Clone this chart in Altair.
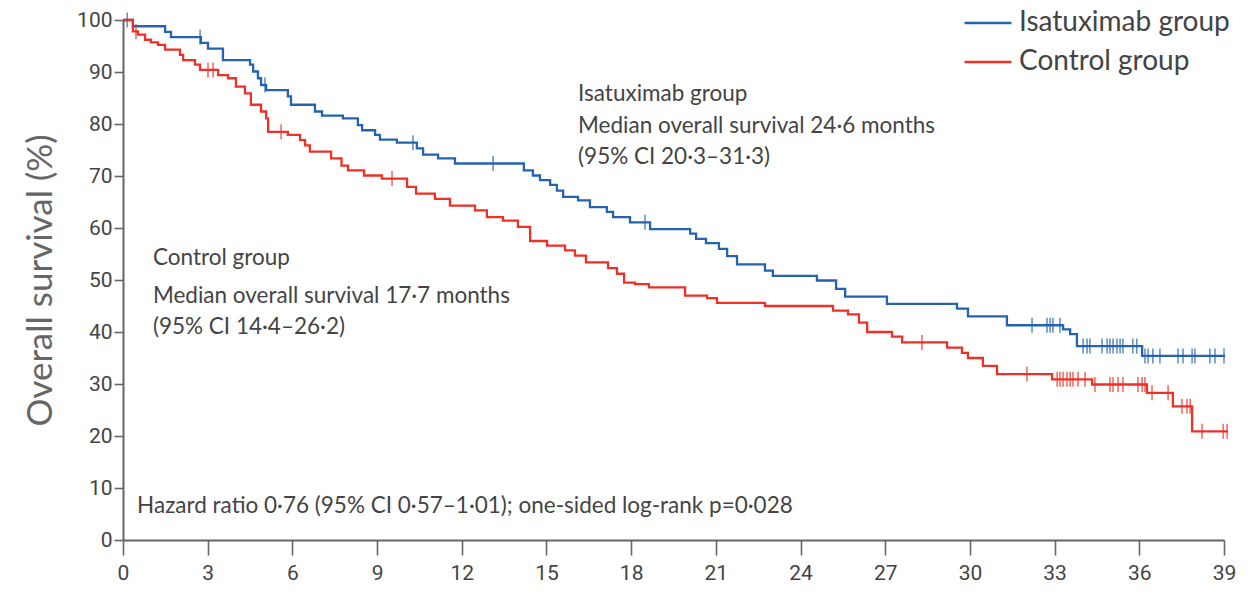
import altair as alt
import pandas as pd

# ---- data (months, overall survival %) ----
isa_time = [0, 0.35, 1.49, 1.70, 2.76, 3.01, 3.54, 4.50, 4.61, 4.78, 4.89, 5.07, 5.84, 5.95,
            6.80, 7.05, 7.79, 8.32, 8.47, 8.93, 9.10, 9.70, 10.41, 10.63, 11.16, 11.76,
            14.20, 14.52, 14.77, 15.13, 15.37, 15.59, 16.12, 16.54, 17.14, 17.36, 17.96, 18.67,
            20.09, 20.30, 20.65, 21.11, 21.40, 21.75, 22.74, 23.02, 24.58, 25.26, 25.58,
            27.06, 29.54, 29.93, 31.31, 33.30, 33.55, 33.79, 36.10, 39.04]
isa_surv = [100, 98.8, 97.7, 96.7, 95.6, 94.5, 92.3, 91.4, 90.1, 88.8, 87.5, 86.5, 85.3, 83.7,
            82.4, 81.6, 81.1, 79.8, 78.8, 77.9, 77.0, 76.4, 75.3, 74.1, 73.4, 72.4,
            71.1, 70.1, 69.2, 68.3, 67.2, 66.0, 65.3, 64.0, 63.1, 62.1, 61.1, 59.8,
            58.9, 57.9, 57.1, 56.0, 54.6, 53.0, 51.8, 50.8, 49.9, 48.3, 46.8,
            45.4, 44.5, 43.0, 41.3, 40.5, 39.6, 37.3, 35.4, 35.4]
isa_censor = [0.15, 2.73, 5.03, 10.27, 13.11, 18.49, 32.20, 32.73, 32.84, 32.94, 33.19,
              34.01, 34.15, 34.25, 34.68, 34.86, 34.96, 35.07, 35.21, 35.32, 35.42, 35.77,
              35.91, 36.20, 36.31, 36.48, 36.73, 37.37, 37.55, 37.87, 37.97, 38.50, 38.68, 39.00]

ctl_time = [0, 0.35, 0.53, 0.78, 0.99, 1.24, 1.49, 2.02, 2.13, 2.55, 2.73, 3.37, 3.72, 4.00,
            4.32, 4.53, 4.89, 5.07, 5.14, 5.84, 6.27, 6.45, 6.62, 7.37, 7.74, 7.97, 8.54, 9.17,
            10.06, 10.38, 11.05, 11.58, 12.47, 12.89, 13.46, 13.99, 14.42, 15.02, 15.66, 16.01,
            16.40, 17.18, 17.50, 17.75, 18.14, 18.63, 19.91, 20.69, 21.04, 22.74, 25.15, 25.68,
            26.07, 26.36, 27.24, 27.60, 29.19, 29.72, 29.93, 30.46, 30.96, 32.91, 34.33, 36.27,
            37.19, 37.87, 39.14]
ctl_surv = [100, 97.8, 97.2, 96.2, 95.7, 95.2, 94.3, 93.3, 92.3, 91.4, 90.4, 89.4, 88.8, 87.2,
            85.9, 83.7, 82.4, 81.1, 78.5, 77.9, 76.9, 75.9, 74.7, 73.4, 72.0, 71.1, 70.1, 69.5,
            67.9, 66.6, 65.6, 64.3, 63.4, 62.1, 61.4, 60.2, 57.5, 56.6, 55.7, 54.7,
            53.4, 52.3, 51.2, 49.5, 49.2, 48.6, 47.0, 46.5, 45.6, 45.0, 44.1, 43.4,
            41.8, 40.0, 39.1, 38.0, 37.0, 36.0, 35.0, 33.5, 31.9, 30.9, 29.9, 28.3,
            25.7, 20.9, 20.9]
ctl_censor = [0.46, 3.01, 3.19, 5.60, 9.53, 28.30, 32.02, 33.09, 33.19, 33.30, 33.44, 33.55,
              33.65, 33.83, 34.08, 34.43, 34.96, 35.07, 35.25, 35.42, 35.95, 36.10, 36.20,
              36.45, 37.02, 37.51, 37.69, 37.80, 38.22, 38.97, 39.11]

groups = ["Isatuximab group", "Control group"]
colors = ["#2463ad", "#ec3127"]
x_ticks = list(range(0, 40, 3))
y_ticks = list(range(0, 101, 10))

notes_text = ["Isatuximab group", "Median overall survival 24·6 months", "(95% CI 20·3–31·3)",
              "Control group", "Median overall survival 17·7 months", "(95% CI 14·4–26·2)",
              "Hazard ratio 0·76 (95% CI 0·57–1·01); one-sided log-rank p=0·028"]
notes_x = [16.12, 16.12, 16.12, 1.06, 1.06, 1.06, 0.50]
notes_y = [85.7, 79.7, 73.7, 54.2, 46.9, 40.9, 6.6]


def level(times, survs, t):
    v = survs[0]
    for tt, s in zip(times, survs):
        if tt <= t:
            v = s
    return v


lines = pd.concat([
    pd.DataFrame({"month": isa_time, "surv": isa_surv, "group": groups[0]}),
    pd.DataFrame({"month": ctl_time, "surv": ctl_surv, "group": groups[1]}),
])
cens = pd.concat([
    pd.DataFrame({"month": isa_censor,
                  "surv": [level(isa_time, isa_surv, t) for t in isa_censor],
                  "group": groups[0]}),
    pd.DataFrame({"month": ctl_censor,
                  "surv": [level(ctl_time, ctl_surv, t) for t in ctl_censor],
                  "group": groups[1]}),
])
notes = pd.DataFrame({"month": notes_x, "surv": notes_y, "text": notes_text})

tick_font = "Roboto, sans-serif"
text_font = "Lato, Open Sans, sans-serif"

x_enc = alt.X("month:Q",
              scale=alt.Scale(domain=[0, 39], nice=False, zero=True),
              axis=alt.Axis(values=x_ticks, title=None, grid=False, tickSize=15,
                            labelFont=tick_font, labelFontSize=21, labelColor="#444",
                            labelPadding=7, domainColor="#666", domainWidth=2,
                            tickColor="#666", tickWidth=1.6, labelFlush=False))
y_enc = alt.Y("surv:Q",
              scale=alt.Scale(domain=[0, 100], nice=False),
              axis=alt.Axis(values=y_ticks, title="Overall survival (%)", grid=False,
                            tickSize=9, labelFont=tick_font, labelFontSize=21,
                            labelColor="#444", labelPadding=2, domainColor="#666",
                            domainWidth=2, tickColor="#666", tickWidth=1.6,
                            titleFont=text_font, titleFontSize=35, titleFontWeight="normal",
                            titleColor="#666", titleX=-83, titleY=260, titleAngle=270,
                            titleAlign="center", titleBaseline="middle"))
color = alt.Color("group:N", scale=alt.Scale(domain=groups, range=colors),
                  sort=groups,
                  legend=alt.Legend(title=None, orient="none", legendX=840, legendY=-22,
                                    symbolType="stroke", symbolSize=2200,
                                    symbolStrokeWidth=2.5, labelFont=text_font,
                                    labelFontSize=28, labelColor="#444", labelOffset=6,
                                    labelLimit=0, rowPadding=-5))

line_layer = alt.Chart(lines).mark_line(interpolate="step-after", strokeWidth=2.3).encode(
    x=x_enc, y=y_enc, color=color)
tick_layer = alt.Chart(cens).mark_tick(orient="vertical", size=15, thickness=1.6).encode(
    x="month:Q", y="surv:Q",
    color=alt.Color("group:N", scale=alt.Scale(domain=groups, range=colors), legend=None))
text_layer = alt.Chart(notes).mark_text(align="left", baseline="middle", font=text_font,
                                        fontSize=22.5, color="#444").encode(
    x="month:Q", y="surv:Q", text="text:N")

chart = alt.layer(line_layer, tick_layer, text_layer).properties(
    width=1101, height=520,
    autosize=alt.AutoSizeParams(type="none"),
    padding={"left": 123, "top": 20, "right": 26, "bottom": 54},
).configure_view(stroke=None)

chart.save("out.html", embed_options={"renderer": "svg", "actions": False})
